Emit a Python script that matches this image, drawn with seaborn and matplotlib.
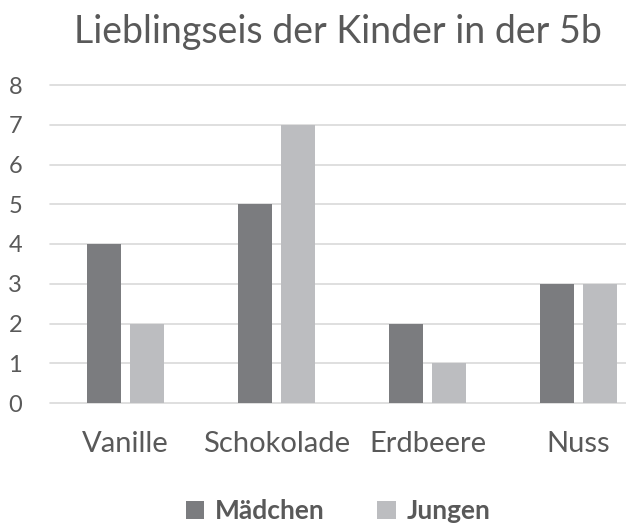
import matplotlib
matplotlib.use("Agg")
import matplotlib.pyplot as plt
import seaborn as sns
import pandas as pd

# -------------------------------------------------------------
# Data
# -------------------------------------------------------------
title = "Lieblingseis der Kinder in der 5b"
sorten = ["Vanille", "Schokolade", "Erdbeere", "Nuss"]
maedchen = [4, 5, 2, 3]
jungen = [2, 7, 1, 3]
gruppen = ["Mädchen", "Jungen"]
y_ticks = [0, 1, 2, 3, 4, 5, 6, 7, 8]

df = pd.DataFrame({
    "Sorte": sorten * 2,
    "Gruppe": [gruppen[0]] * len(sorten) + [gruppen[1]] * len(sorten),
    "Anzahl": maedchen + jungen,
})

TXT = "#595959"
sns.set_style("white")
plt.rcParams["font.family"] = ["Lato", "DejaVu Sans"]

fig = plt.figure(figsize=(6.26, 5.29), dpi=100)
ax = fig.add_axes([50/626, 126/529, 576/626, 318/529])

sns.barplot(data=df, x="Sorte", y="Anzahl", hue="Gruppe", order=sorten,
            hue_order=gruppen, palette=["#7b7c7f", "#bcbdc0"],
            width=0.57, gap=0.21, saturation=1, linewidth=0,
            legend=True, ax=ax)

ax.set_ylim(0, 8)
ax.set_xlim(-0.5, 3.315)
ax.set_yticks(y_ticks)
ax.yaxis.grid(True, color="#d9d9d9", lw=1.2)
ax.set_axisbelow(True)
for s in ax.spines.values():
    s.set_visible(False)
ax.set_xlabel(""); ax.set_ylabel("")
ax.tick_params(axis="y", length=0, pad=20, labelsize=17, labelcolor=TXT)
ax.tick_params(axis="x", length=0, pad=20, labelsize=21, labelcolor=TXT)
for line in ax.get_ygridlines():
    line.set_clip_on(False)

fig.text(338/626, 1 - 32/529, title, ha="center", va="center",
         fontsize=27, color=TXT)

h, l = ax.get_legend_handles_labels()
ax.legend_.remove()
leg = fig.legend(h, l, loc="center", bbox_to_anchor=(338/626, 1 - 511/529),
                 ncol=2, frameon=False, fontsize=19, handlelength=0.7,
                 handleheight=0.7, handletextpad=0.4, columnspacing=2.0)
for t in leg.get_texts():
    t.set_color(TXT)
    t.set_fontweight("bold")

fig.savefig("out.png", dpi=100)
